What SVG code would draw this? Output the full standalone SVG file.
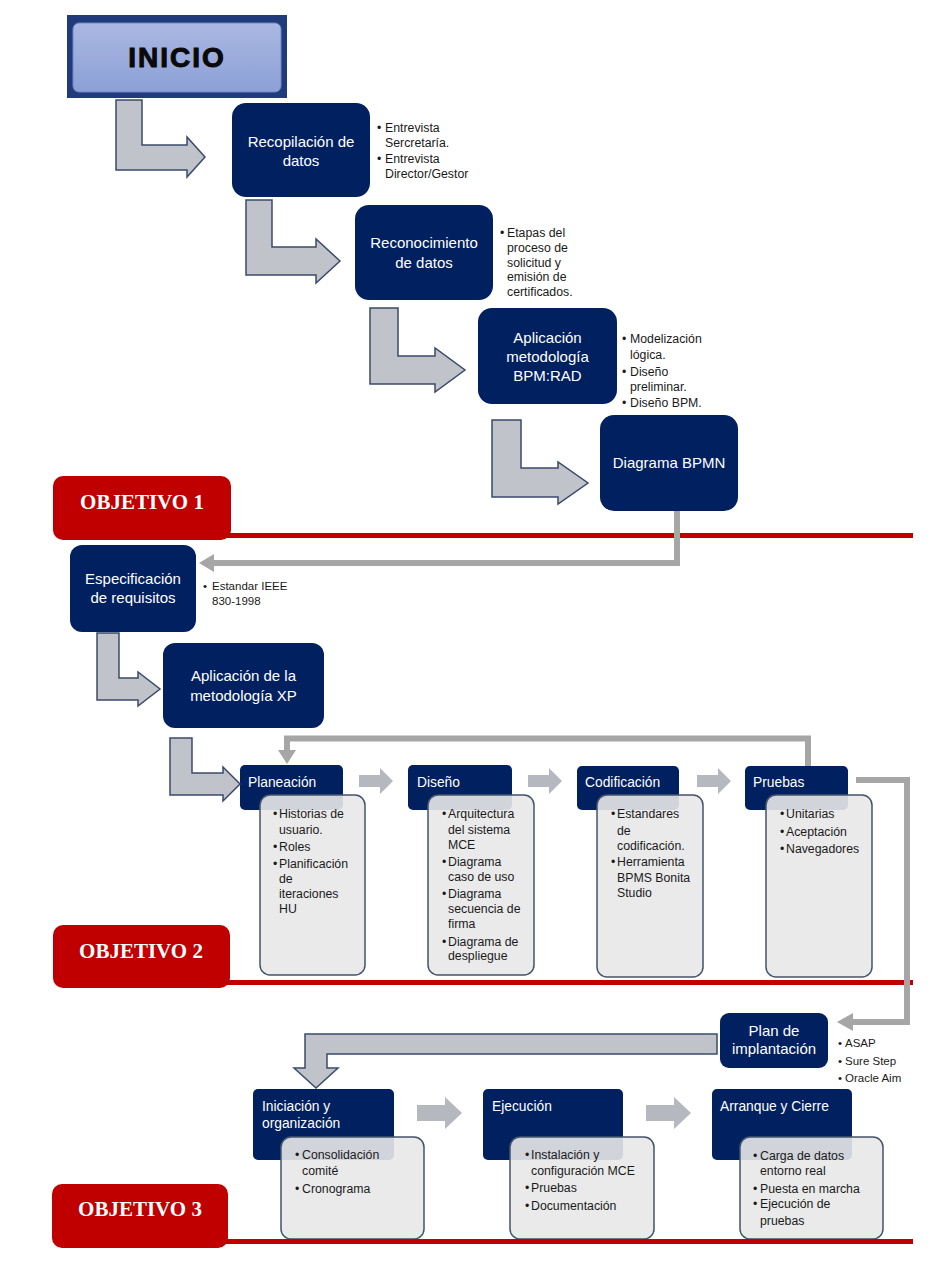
<svg xmlns="http://www.w3.org/2000/svg" width="950" height="1280" viewBox="0 0 950 1280">
<defs>
<linearGradient id="inicioGrad" x1="0" y1="0" x2="0" y2="1">
<stop offset="0" stop-color="#aab8e2"/>
<stop offset="1" stop-color="#8ca0d6"/>
</linearGradient>
</defs>
<style>
.navy{fill:#002060;}
.hd{fill:#ffffff;font-family:"Liberation Sans",Arial,sans-serif;font-size:15px;text-anchor:middle;}
.ph{fill:#ffffff;font-family:"Liberation Sans",Arial,sans-serif;font-size:13.8px;}
.bl{fill:#1a1a1a;font-family:"Liberation Sans",Arial,sans-serif;font-size:12.3px;}
.bs{fill:#1a1a1a;font-family:"Liberation Sans",Arial,sans-serif;font-size:11.5px;}
.lt{fill:#e8e8e9;fill-opacity:0.9;stroke:#44546a;stroke-width:1.5;}
.obj{fill:#c00000;}
.objt{fill:#ffffff;font-family:"Liberation Serif","Times New Roman",serif;font-weight:bold;font-size:21px;text-anchor:middle;}
.big{fill:#c0c3c9;stroke:#3b4a6b;stroke-width:1.5;stroke-linejoin:miter;}
.sm{fill:#b5b8bf;}
.gl{fill:none;stroke:#a6a6a6;stroke-width:6;}
.gh{fill:#a6a6a6;}
</style>

<g id="inicio">
<rect x="67" y="15" width="220" height="83" fill="#1f3b7b"/>
<rect x="73" y="23" width="208" height="69" rx="6" fill="url(#inicioGrad)" stroke="#7086c4" stroke-width="1"/>
<text x="177" y="67" font-family="'Liberation Sans',Arial,sans-serif" font-weight="bold" font-size="28" letter-spacing="2" text-anchor="middle" fill="#0a0a0a" stroke="#0a0a0a" stroke-width="1">INICIO</text>
</g>

<g id="recopilacion">
<rect class="navy" x="232" y="103" width="138" height="94" rx="14"/>
<text class="hd" x="301" y="147">Recopilación de</text>
<text class="hd" x="301" y="166">datos</text>
<text class="bl"><tspan x="377" y="131.5">•</tspan><tspan x="385" y="131.5">Entrevista</tspan><tspan x="385" y="146.5">Sercretaría.</tspan><tspan x="377" y="162.5">•</tspan><tspan x="385" y="162.5">Entrevista</tspan><tspan x="385" y="177.5">Director/Gestor</tspan></text>
</g>

<g id="reconocimiento">
<rect class="navy" x="355" y="205" width="138" height="95" rx="14"/>
<text class="hd" x="424" y="248">Reconocimiento</text>
<text class="hd" x="424" y="268">de datos</text>
<text class="bl"><tspan x="500" y="236.5">•</tspan><tspan x="507" y="236.5">Etapas del</tspan><tspan x="507" y="251.5">proceso de</tspan><tspan x="507" y="266.5">solicitud y</tspan><tspan x="507" y="280.5">emisión de</tspan><tspan x="507" y="295.5">certificados.</tspan></text>
</g>

<g id="bpmrad">
<rect class="navy" x="478" y="308" width="139" height="96" rx="14"/>
<text class="hd" x="547.5" y="343">Aplicación</text>
<text class="hd" x="547.5" y="362">metodología</text>
<text class="hd" x="547.5" y="381">BPM:RAD</text>
<text class="bl"><tspan x="622" y="342.5">•</tspan><tspan x="630" y="342.5">Modelización</tspan><tspan x="630" y="358.5">lógica.</tspan><tspan x="622" y="375.5">•</tspan><tspan x="630" y="375.5">Diseño</tspan><tspan x="630" y="390.5">preliminar.</tspan><tspan x="622" y="406.5">•</tspan><tspan x="630" y="406.5">Diseño BPM.</tspan></text>
</g>

<g id="bpmn">
<rect class="navy" x="600" y="415" width="138" height="96" rx="14"/>
<text class="hd" x="669" y="468">Diagrama BPMN</text>
</g>

<g id="especificacion">
<rect class="navy" x="70" y="545" width="126" height="87" rx="12"/>
<text class="hd" x="133" y="584">Especificación</text>
<text class="hd" x="133" y="603">de requisitos</text>
<text class="bs"><tspan x="203" y="590">•</tspan><tspan x="212" y="590">Estandar IEEE</tspan><tspan x="212" y="605">830-1998</tspan></text>
</g>

<g id="xp">
<rect class="navy" x="163" y="643" width="161" height="85" rx="12"/>
<text class="hd" x="243.5" y="681">Aplicación de la</text>
<text class="hd" x="243.5" y="701">metodología XP</text>
</g>

<g id="planeacion">
<rect class="navy" x="240" y="765" width="103" height="45" rx="5"/>
<text class="ph" x="248" y="787">Planeación</text>
<rect class="lt" x="260" y="795" width="105" height="180" rx="10"/>
<text class="bl"><tspan x="273" y="817.5">•</tspan><tspan x="279" y="817.5">Historias de</tspan><tspan x="279" y="833.5">usuario.</tspan><tspan x="273" y="850.5">•</tspan><tspan x="279" y="850.5">Roles</tspan><tspan x="273" y="867.5">•</tspan><tspan x="279" y="867.5">Planificación</tspan><tspan x="279" y="882.5">de</tspan><tspan x="279" y="897.5">iteraciones</tspan><tspan x="279" y="912.5">HU</tspan></text>
</g>

<g id="diseno">
<rect class="navy" x="408" y="765" width="104" height="45" rx="5"/>
<text class="ph" x="417" y="787">Diseño</text>
<rect class="lt" x="428" y="795" width="106" height="180" rx="10"/>
<text class="bl"><tspan x="442" y="817.5">•</tspan><tspan x="448" y="817.5">Arquitectura</tspan><tspan x="448" y="833.5">del sistema</tspan><tspan x="448" y="848.5">MCE</tspan><tspan x="442" y="865.5">•</tspan><tspan x="448" y="865.5">Diagrama</tspan><tspan x="448" y="880.5">caso de uso</tspan><tspan x="442" y="897.5">•</tspan><tspan x="448" y="897.5">Diagrama</tspan><tspan x="448" y="912.5">secuencia de</tspan><tspan x="448" y="927.5">firma</tspan><tspan x="442" y="945.5">•</tspan><tspan x="448" y="945.5">Diagrama de</tspan><tspan x="448" y="959.5">despliegue</tspan></text>
</g>

<g id="codificacion">
<rect class="navy" x="577" y="766" width="102" height="44" rx="5"/>
<text class="ph" x="585" y="787">Codificación</text>
<rect class="lt" x="597" y="795" width="106" height="182" rx="10"/>
<text class="bl"><tspan x="611" y="817.5">•</tspan><tspan x="617" y="817.5">Estandares</tspan><tspan x="617" y="834.5">de</tspan><tspan x="617" y="849.5">codificación.</tspan><tspan x="611" y="865.5">•</tspan><tspan x="617" y="865.5">Herramienta</tspan><tspan x="617" y="881.5">BPMS Bonita</tspan><tspan x="617" y="896.5">Studio</tspan></text>
</g>

<g id="pruebas">
<rect class="navy" x="745" y="766" width="103" height="44" rx="5"/>
<text class="ph" x="753" y="787">Pruebas</text>
<rect class="lt" x="766" y="795" width="106" height="182" rx="10"/>
<text class="bl"><tspan x="780" y="817.5">•</tspan><tspan x="786" y="817.5">Unitarias</tspan><tspan x="780" y="835.5">•</tspan><tspan x="786" y="835.5">Aceptación</tspan><tspan x="780" y="852.5">•</tspan><tspan x="786" y="852.5">Navegadores</tspan></text>
</g>

<g id="plan">
<rect class="navy" x="720" y="1013" width="108" height="55" rx="9"/>
<text class="hd" x="774" y="1036">Plan de</text>
<text class="hd" x="774" y="1054">implantación</text>
<text class="bs"><tspan x="838" y="1047">•</tspan><tspan x="845" y="1047">ASAP</tspan><tspan x="838" y="1065">•</tspan><tspan x="845" y="1065">Sure Step</tspan><tspan x="838" y="1082">•</tspan><tspan x="845" y="1082">Oracle Aim</tspan></text>
</g>

<g id="iniciacion">
<rect class="navy" x="253" y="1089" width="141" height="71" rx="5"/>
<text class="ph" x="262" y="1111">Iniciación y</text>
<text class="ph" x="262" y="1128">organización</text>
<rect class="lt" x="281" y="1137" width="143" height="102" rx="10"/>
<text class="bl"><tspan x="295" y="1158.5">•</tspan><tspan x="302" y="1158.5">Consolidación</tspan><tspan x="302" y="1174.5">comité</tspan><tspan x="295" y="1192.5">•</tspan><tspan x="302" y="1192.5">Cronograma</tspan></text>
</g>

<g id="ejecucion">
<rect class="navy" x="483" y="1089" width="140" height="71" rx="5"/>
<text class="ph" x="492" y="1111">Ejecución</text>
<rect class="lt" x="510" y="1137" width="144" height="102" rx="10"/>
<text class="bl"><tspan x="525" y="1158.5">•</tspan><tspan x="531" y="1158.5">Instalación y</tspan><tspan x="531" y="1174.5">configuración MCE</tspan><tspan x="525" y="1191.5">•</tspan><tspan x="531" y="1191.5">Pruebas</tspan><tspan x="525" y="1209.5">•</tspan><tspan x="531" y="1209.5">Documentación</tspan></text>
</g>

<g id="arranque">
<rect class="navy" x="712" y="1089" width="140" height="71" rx="5"/>
<text class="ph" x="720" y="1111">Arranque y Cierre</text>
<rect class="lt" x="740" y="1137" width="143" height="102" rx="10"/>
<text class="bl"><tspan x="753" y="1159.5">•</tspan><tspan x="760" y="1159.5">Carga de datos</tspan><tspan x="760" y="1174.5">entorno real</tspan><tspan x="753" y="1192.5">•</tspan><tspan x="760" y="1192.5">Puesta en marcha</tspan><tspan x="753" y="1207.5">•</tspan><tspan x="760" y="1207.5">Ejecución de</tspan><tspan x="760" y="1224.5">pruebas</tspan></text>
</g>

<g id="objetivo1">
<rect class="obj" x="53" y="476" width="178" height="64" rx="10"/>
<rect class="obj" x="225" y="533" width="688" height="5"/>
<text class="objt" x="142" y="509">OBJETIVO 1</text>
</g>
<g id="objetivo2">
<rect class="obj" x="53" y="925" width="177" height="63" rx="10"/>
<rect class="obj" x="225" y="980" width="688" height="5"/>
<text class="objt" x="141" y="958">OBJETIVO 2</text>
</g>
<g id="objetivo3">
<rect class="obj" x="52" y="1184" width="176" height="64" rx="10"/>
<rect class="obj" x="222" y="1239" width="691" height="5"/>
<text class="objt" x="140" y="1216">OBJETIVO 3</text>
</g>

<g id="connectors">
<path class="big" d="M116,100 H142 V145 H187 V137 L205,157 L187,177 V170 H116 Z"/>
<path class="big" d="M246,200 H272 V247 H316 V239 L340,261 L316,283 V275 H246 Z"/>
<path class="big" d="M370,308 H398 V356 H435 V348 L465,370 L435,392 V384 H370 Z"/>
<path class="big" d="M492,420 H521 V468 H558 V462 L588,483 L558,504 V497 H492 Z"/>
<path class="big" d="M97,633 H119 V678 H138 V672 L160,689 L138,706 V700 H97 Z"/>
<path class="big" d="M170,738 H192 V773 H223 V767 L240,784 L223,801 V795 H170 Z"/>
<path class="big" d="M717,1034 V1054 H327 V1068 H338 L316,1088 L294,1068 H305 V1034 Z"/>

<polygon class="sm" points="359,775 380,775 380,768 393,781 380,794 380,787 359,787"/>
<polygon class="sm" points="528,775 549,775 549,768 562,781 549,794 549,787 528,787"/>
<polygon class="sm" points="697,775 718,775 718,768 731,781 718,794 718,787 697,787"/>
<polygon class="sm" points="417,1105 445,1105 445,1097 462,1113 445,1129 445,1121 417,1121"/>
<polygon class="sm" points="646,1105 674,1105 674,1097 691,1113 674,1129 674,1121 646,1121"/>

<path class="gl" d="M677,511 V563 H212"/>
<polygon class="gh" points="199,563 214,554 214,572"/>
<path class="gl" d="M808,766 V738.5 H287 V752"/>
<polygon class="gh" points="287,764 278,750 296,750"/>
<path class="gl" d="M856,780 H907 V1022 H850"/>
<polygon class="gh" points="837,1022 853,1013 853,1031"/>
</g>
</svg>
